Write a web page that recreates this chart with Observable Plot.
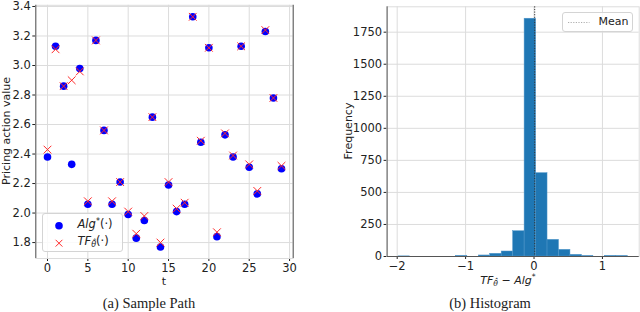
<!DOCTYPE html>
<html>
<head>
<meta charset="utf-8">
<script src="https://cdn.jsdelivr.net/npm/d3@7"></script>
<script src="https://cdn.jsdelivr.net/npm/@observablehq/plot@0.6"></script>
<style>
  html, body { margin: 0; padding: 0; background: #fff; }
  #root { position: relative; width: 640px; height: 312px; overflow: hidden; font-family: "DejaVu Sans", sans-serif; color: #222; }
  .abs { position: absolute; white-space: nowrap; }
  .lbl { font-size: 11px; line-height: 1; }
  .cap { font-family: "Liberation Serif", serif; font-size: 14.5px; transform: translateX(-50%); }
  .legend { position: absolute; border: 1px solid #d4d4d4; border-radius: 3px; background: rgba(255,255,255,0.85); box-sizing: border-box; }
  sup { font-size: 70%; vertical-align: 0.55em; line-height: 0; }
  sub { font-size: 70%; vertical-align: -0.3em; line-height: 0; }
</style>
</head>
<body>
<div id="root"></div>
<script>
// ---------- data: (a) sample path ----------
const t = [0,1,2,3,4,5,6,7,8,9,10,11,12,13,14,15,16,17,18,19,20,21,22,23,24,25,26,27,28,29];
const algStar = [2.38,3.13,2.86,2.33,2.98,2.06,3.17,2.56,2.06,2.21,1.99,1.83,1.95,2.65,1.77,2.19,2.01,2.06,3.33,2.48,3.12,1.84,2.53,2.38,3.13,2.31,2.13,3.23,2.78,2.30];
const tfTheta = [2.43,3.11,2.86,2.90,2.96,2.08,3.17,2.56,2.08,2.21,2.01,1.86,1.98,2.65,1.80,2.21,2.03,2.07,3.33,2.49,3.12,1.87,2.54,2.39,3.13,2.33,2.15,3.24,2.78,2.32];
const xTicksA = [0,5,10,15,20,25,30];
const yTicksA = [1.8,2.0,2.2,2.4,2.6,2.8,3.0,3.2,3.4];
const xDomainA = [-1.45, 30.45];
const yDomainA = [1.692, 3.408];

// ---------- data: (b) histogram ----------
const binEdges = [-1.98,-1.8125,-1.645,-1.4775,-1.31,-1.1425,-0.975,-0.8075,-0.64,-0.4725,-0.305,-0.1375,0.03,0.1975,0.365,0.5325,0.70,0.8675,1.035,1.2025,1.37];
const binCounts = [1,0,0,0,0,4,0,8,21,39,197,1855,650,130,52,13,3,0,4,3];
const meanDiff = 0.01;
const xTicksB = [-2,-1,0,1];
const yTicksB = [0,250,500,750,1000,1250,1500,1750];
const xDomainB = [-2.1475, 1.5375];
const yDomainB = [0, 1948];

const pathData = t.map((ti, i) => ({t: ti, alg: algStar[i], tf: tfTheta[i]}));
const bins = binCounts.map((c, i) => ({x1: binEdges[i], x2: binEdges[i + 1], count: c}));

const root = document.getElementById("root");
const baseStyle = {fontSize: "11.5px", fontFamily: "DejaVu Sans, sans-serif", color: "#222", background: "transparent", overflow: "visible"};

// ---------- panel (a) ----------
const plotA = Plot.plot({
  width: 300, height: 290,
  marginLeft: 35.3, marginRight: 7.3, marginTop: 4.8, marginBottom: 32,
  style: baseStyle,
  x: {domain: xDomainA, ticks: xTicksA, tickSize: 3, tickPadding: 2, label: null, tickFormat: d3.format("d")},
  y: {domain: yDomainA, ticks: yTicksA, tickSize: 3, tickPadding: 2, label: null, tickFormat: d3.format(".1f")},
  marks: [
    Plot.frame({stroke: "#dcdcdc"}),
    Plot.ruleX(xTicksA, {stroke: "#dcdcdc", strokeWidth: 1}),
    Plot.ruleY(yTicksA, {stroke: "#dcdcdc", strokeWidth: 1}),
    Plot.ruleX([xDomainA[0], xDomainA[1]], {stroke: "#555", strokeWidth: 1}),
    Plot.dot(pathData, {x: "t", y: "alg", r: 3.8, fill: "#0000ff", stroke: "none"}),
    Plot.dot(pathData, {x: "t", y: "tf", r: 3.6, symbol: "times", stroke: "#ff2a2a", strokeWidth: 1})
  ]
});
plotA.style.position = "absolute"; plotA.style.left = "0px"; plotA.style.top = "0px";
root.appendChild(plotA);

// ---------- panel (b) ----------
const plotB = Plot.plot({
  width: 320, height: 290,
  marginLeft: 66.6, marginRight: 1.3, marginTop: 6.3, marginBottom: 34,
  style: baseStyle,
  x: {domain: xDomainB, ticks: xTicksB, tickSize: 3, tickPadding: 2, label: null, tickFormat: d3.format("d")},
  y: {domain: yDomainB, ticks: yTicksB, tickSize: 3, tickPadding: 2, label: null, tickFormat: d3.format("d")},
  marks: [
    Plot.frame({stroke: "#dcdcdc"}),
    Plot.ruleX(xTicksB, {stroke: "#dcdcdc", strokeWidth: 1}),
    Plot.ruleY(yTicksB, {stroke: "#dcdcdc", strokeWidth: 1}),
    Plot.rectY(bins, {x1: "x1", x2: "x2", y: "count", fill: "#1f77b4", stroke: "#4f95c9", strokeWidth: 0.5}),
    Plot.ruleX([meanDiff], {stroke: "#333", strokeWidth: 1, strokeDasharray: "1.2,1.4"}),
    Plot.ruleX([xDomainB[0]], {stroke: "#555", strokeWidth: 1}),
    Plot.ruleY([yDomainB[0]], {stroke: "#555", strokeWidth: 1})
  ]
});
plotB.style.position = "absolute"; plotB.style.left = "320px"; plotB.style.top = "0px";
root.appendChild(plotB);

// ---------- text overlays ----------
function add(html, cls, css) {
  const d = document.createElement("div");
  d.className = "abs " + cls;
  d.innerHTML = html;
  Object.assign(d.style, css);
  root.appendChild(d);
  return d;
}
add("Pricing action value", "lbl", {left: "6px", top: "131px", transform: "translate(-50%,-50%) rotate(-90deg)"});
add("t", "lbl", {left: "164px", top: "281px", transform: "translate(-50%,-50%)"});
add("Frequency", "lbl", {left: "348px", top: "131px", transform: "translate(-50%,-50%) rotate(-90deg)"});
add("<i>TF</i><sub><i>θ̂</i></sub> − <i>Alg</i><sup>*</sup>", "lbl", {left: "508px", top: "280px", transform: "translate(-50%,-50%)"});
add("(a) Sample Path", "cap", {left: "149px", top: "295px"});
add("(b) Histogram", "cap", {left: "490px", top: "295px"});

// legend (a)
const legA = document.createElement("div");
legA.className = "legend";
Object.assign(legA.style, {left: "41.5px", top: "212.5px", width: "81px", height: "39px"});
legA.innerHTML = `
  <svg width="81" height="39" style="position:absolute;left:0;top:0">
    <circle cx="16" cy="11.8" r="3.8" fill="#0000ff"></circle>
    <path d="M12.6,25.8 L19.4,32.6 M19.4,25.8 L12.6,32.6" stroke="#ff2a2a" stroke-width="1" fill="none"></path>
  </svg>
  <div class="abs" style="left:35px;top:3px;font-size:11.5px"><i>Alg</i><sup>*</sup>(·)</div>
  <div class="abs" style="left:35px;top:20px;font-size:11.5px"><i>TF</i><sub><i>θ̂</i></sub>(·)</div>`;
root.appendChild(legA);

// legend (b)
const legB = document.createElement("div");
legB.className = "legend";
Object.assign(legB.style, {left: "561.5px", top: "11.5px", width: "71px", height: "20.5px"});
legB.innerHTML = `
  <svg width="71" height="20" style="position:absolute;left:0;top:0">
    <line x1="5" y1="9.5" x2="26.5" y2="9.5" stroke="#999" stroke-width="0.8" stroke-dasharray="1.2,1.4"></line>
  </svg>
  <div class="abs" style="left:36px;top:2.5px;font-size:11px">Mean</div>`;
root.appendChild(legB);
</script>
</body>
</html>
